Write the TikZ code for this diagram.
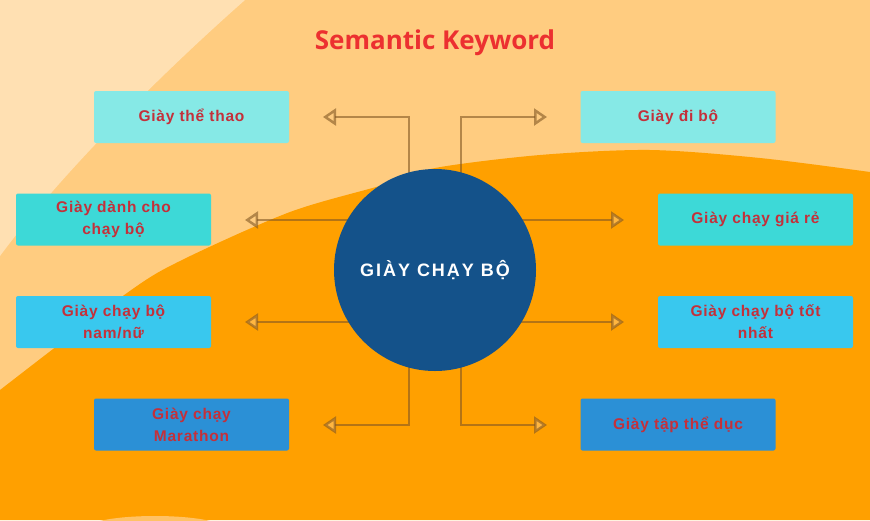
\documentclass[tikz,border=0pt]{standalone}
\usepackage{fontspec}
\setmainfont{Liberation Sans}
\newfontfamily\boxfont[LetterSpace=5]{Liberation Sans}
\newfontfamily\circfont[LetterSpace=11]{Liberation Sans}
\newfontfamily\titlefont{Open Sans}
\usetikzlibrary{arrows.meta}
\definecolor{bgA}{HTML}{FFE0B2}
\definecolor{bgB}{HTML}{FFCC80}
\definecolor{bgC}{HTML}{FFA000}
\definecolor{bgD}{HTML}{FFC266}
\definecolor{boxA}{HTML}{86E9E6}
\definecolor{boxB}{HTML}{3DD9D7}
\definecolor{boxC}{HTML}{39C8EE}
\definecolor{boxD}{HTML}{2B90D6}
\definecolor{keyred}{HTML}{C4303A}
\definecolor{titlered}{HTML}{EC3030}
\definecolor{circ}{HTML}{14528A}
\definecolor{connc}{RGB}{130,88,36}
\tikzset{
  kbox/.style={fill=#1, rounded corners=2pt, minimum width=195pt, minimum height=52pt,
    inner sep=0pt, align=center, text=keyred,
    font=\boxfont\bfseries\fontsize{15.5}{22}\selectfont},
  conn/.style={draw=connc, line width=2.5pt, draw opacity=0.6, fill opacity=0.5,
    -{Triangle[length=13pt,width=17pt,fill=bgB]}},
}
\begin{document}
\begin{tikzpicture}[x=1pt,y=-1pt]
\useasboundingbox (0,0) rectangle (870,520);
% background
\fill[bgB] (0,0) rectangle (870,520);
\fill[bgA] (0,0) -- (245,0) .. controls (160,75) and (60,175) .. (0,256) -- cycle;
\fill[bgC] plot[smooth] coordinates {(0,390) (127,293) (182,260) (290,212) (383,185) (435,168) (540,155) (650,150) (760,158) (870,172)} -- (870,520) -- (0,520) -- cycle;
\fill[bgD] (155,528) ellipse [x radius=68, y radius=12];
% title
\node[font=\titlefont\bfseries\fontsize{26}{30}\selectfont, text=titlered] (title) at (435,43) {Semantic Keyword};
% boxes
\node[kbox=boxA] (b1) at (191.5,117) {Giày thể thao};
\node[kbox=boxA] (b2) at (678,117) {Giày đi bộ};
\node[kbox=boxB] (b3) at (113.5,219.5) {Giày dành cho\\chạy bộ};
\node[kbox=boxB] (b4) at (755.5,219.5) {Giày chạy giá rẻ};
\node[kbox=boxC] (b5) at (113.5,322) {Giày chạy bộ\\nam/nữ};
\node[kbox=boxC] (b6) at (755.5,322) {Giày chạy bộ tốt\\nhất};
\node[kbox=boxD] (b7) at (191.5,424.5) {Giày chạy\\Marathon};
\node[kbox=boxD] (b8) at (678,424.5) {Giày tập thể dục};
% connector coordinates
\coordinate (cc) at (435,270);
\coordinate (s1) at (409,270);
\coordinate (s2) at (461,270);
\coordinate (s3) at (435,220);
\coordinate (s5) at (435,322);
\coordinate (t1) at (323,117);
\coordinate (t2) at (547,117);
\coordinate (t3) at (245,220);
\coordinate (t4) at (624,220);
\coordinate (t5) at (245,322);
\coordinate (t6) at (624,322);
\coordinate (t7) at (323,425);
\coordinate (t8) at (547,425);
\draw[conn] (s1) |- (t1);
\draw[conn] (s2) |- (t2);
\draw[conn] (s3) -- (t3);
\draw[conn] (s3) -- (t4);
\draw[conn] (s5) -- (t5);
\draw[conn] (s5) -- (t6);
\draw[conn] (s1) |- (t7);
\draw[conn] (s2) |- (t8);
% circle
\node[circle, fill=circ, minimum size=202pt, inner sep=0pt, text=white,
  font=\circfont\bfseries\fontsize{18}{20}\selectfont] (c) at (cc) {GIÀY CHẠY BỘ};
\end{tikzpicture}
\end{document}
